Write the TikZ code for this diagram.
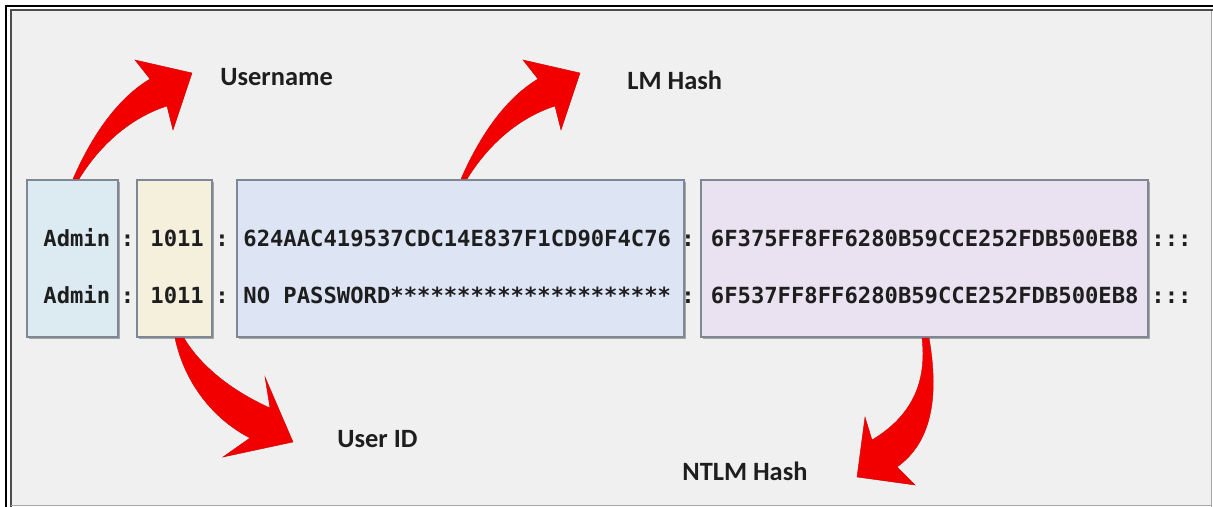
\documentclass[tikz,border=0pt]{standalone}
\usepackage{fontspec}
\newfontfamily\lblfont{Carlito}
\newfontfamily\codefont{DejaVu Sans Mono}
\usetikzlibrary{shadows}
\definecolor{bg}{HTML}{F0F0F0}
\definecolor{userfill}{HTML}{DCEBF1}
\definecolor{idfill}{HTML}{F4F0DC}
\definecolor{lmfill}{HTML}{DDE4F4}
\definecolor{ntfill}{HTML}{EAE2F0}
\definecolor{boxline}{HTML}{7D8894}
\definecolor{arrowred}{HTML}{F20000}
\definecolor{txt}{HTML}{1E1E1E}
\tikzset{
  fieldbox/.style={draw=boxline, line width=0.8pt, inner sep=0pt,
    minimum height=78.5pt,
    drop shadow={shadow xshift=1.2pt, shadow yshift=-1.2pt, fill=black, opacity=0.3}},
  code/.style={anchor=base west, inner sep=0pt, text=txt,
    font=\codefont\bfseries\fontsize{11.1}{13}\selectfont},
  sep/.style={code, anchor=base},
  lbl/.style={anchor=base west, inner sep=0pt, text=txt,
    font=\lblfont\bfseries\fontsize{13.2}{15}\selectfont},
  bigarrow/.style={fill=arrowred, draw=arrowred!85!black, line width=0.2pt}
}
\begin{document}
\begin{tikzpicture}[x=0.5pt,y=-0.5pt]
\useasboundingbox (0,0) rectangle (1213,507);
% frame and background
\fill[white] (0,0) rectangle (1213,507);
\fill[bg] (11,11) rectangle (1211,505);
\draw[black, line width=1pt] (6,507) -- (6,6) -- (1213,6);
\draw[black!70, line width=1pt] (10.5,507) -- (10.5,10.5) -- (1213,10.5);
\draw[black!35, line width=0.5pt] (1211.5,11) -- (1211.5,507);
\draw[black!35, line width=0.5pt] (11,505.5) -- (1211.5,505.5);

% field boxes
\node[fieldbox, fill=userfill, minimum width=45.5pt] (user) at (72.5,258.5) {};
\node[fieldbox, fill=idfill, minimum width=37.5pt] (uid) at (174.5,258.5) {};
\node[fieldbox, fill=lmfill, minimum width=223.5pt] (lm) at (460.5,258.5) {};
\node[fieldbox, fill=ntfill, minimum width=223.5pt] (nt) at (924.5,258.5) {};

% row 1
\node[code] (u1) at (43,247) {Admin};
\node[sep] (s11) at (127.5,247) {:};
\node[code] (i1) at (150,247) {1011};
\node[sep] (s12) at (222,247) {:};
\node[code] (l1) at (243,247) {624AAC419537CDC14E837F1CD90F4C76};
\node[sep] (s13) at (688,247) {:};
\node[code] (n1) at (710.5,247) {6F375FF8FF6280B59CCE252FDB500EB8};
\node[code] (e1) at (1151,247) {:::};
% row 2
\node[code] (u2) at (43,304) {Admin};
\node[sep] (s21) at (127.5,304) {:};
\node[code] (i2) at (150,304) {1011};
\node[sep] (s22) at (222,304) {:};
\node[code] (l2) at (243,304) {NO PASSWORD*********************};
\node[sep] (s23) at (688,304) {:};
\node[code] (n2) at (710.5,304) {6F537FF8FF6280B59CCE252FDB500EB8};
\node[code] (e2) at (1151,304) {:::};

% labels
\node[lbl] (lusername) at (220,86) {Username};
\node[lbl] (llm) at (627,90) {LM Hash};
\node[lbl] (luid) at (337,447) {User ID};
\node[lbl] (lntlm) at (682,480) {NTLM Hash};

% red curved arrows
\path[bigarrow] (73,179) .. controls (90,140) and (115,100) .. (150,79)
  -- (135,60) -- (192,73) -- (173,130) -- (167,106)
  .. controls (130,118) and (100,145) .. (79,179) -- cycle;
\path[bigarrow, xshift=194pt] (73,179) .. controls (90,140) and (115,100) .. (150,79)
  -- (135,60) -- (192,73) -- (173,130) -- (167,106)
  .. controls (130,118) and (100,145) .. (79,179) -- cycle;
\path[bigarrow] (175,338) .. controls (185,385) and (215,420) .. (250,438)
  -- (223,457) -- (293,442) -- (265,377) -- (270,408)
  .. controls (230,390) and (200,365) .. (184,338) -- cycle;
\path[bigarrow] (922,338) .. controls (928,390) and (905,420) .. (872,440)
  -- (865,417) -- (857,477) -- (915,485) -- (897,467)
  .. controls (935,440) and (938,390) .. (929,338) -- cycle;
\end{tikzpicture}
\end{document}
